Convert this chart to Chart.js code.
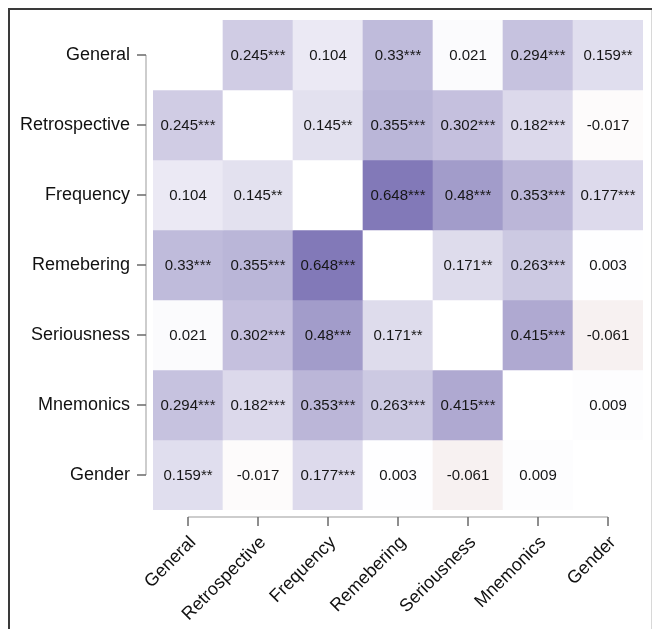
<!DOCTYPE html>
<html>
<head>
<meta charset="utf-8">
<script src="https://cdn.jsdelivr.net/npm/chart.js@4"></script>
<style>
  html, body { margin: 0; padding: 0; background: #fff; }
  #wrap { width: 655px; height: 629px; }
</style>
</head>
<body>
<div id="wrap"><canvas id="mycanvas" width="655" height="629"></canvas></div>
<script>
// variables (rows top to bottom, columns left to right)
var vars = ['General', 'Retrospective', 'Frequency', 'Remebering', 'Seriousness', 'Mnemonics', 'Gender'];

// correlation matrix, null on the diagonal
var corr = [
  [null, 0.245, 0.104, 0.33, 0.021, 0.294, 0.159],
  [0.245, null, 0.145, 0.355, 0.302, 0.182, -0.017],
  [0.104, 0.145, null, 0.648, 0.48, 0.353, 0.177],
  [0.33, 0.355, 0.648, null, 0.171, 0.263, 0.003],
  [0.021, 0.302, 0.48, 0.171, null, 0.415, -0.061],
  [0.294, 0.182, 0.353, 0.263, 0.415, null, 0.009],
  [0.159, -0.017, 0.177, 0.003, -0.061, 0.009, null]
];

// significance stars
var stars = [
  ['', '***', '', '***', '', '***', '**'],
  ['***', '', '**', '***', '***', '***', ''],
  ['', '**', '', '***', '***', '***', '***'],
  ['***', '***', '***', '', '**', '***', ''],
  ['', '***', '***', '**', '', '***', ''],
  ['***', '***', '***', '***', '***', '', ''],
  ['**', '', '***', '', '', '', '']
];

var fontFam = '"Liberation Sans", Arial, sans-serif';

function cellColor(v) {
  if (v === null) return '#ffffff';
  var r, g, b;
  if (v >= 0) {
    r = 255 - 193 * v;
    g = 255 - 207 * v;
    b = 255 - 110 * v;
  } else {
    var a = -v;
    r = 255 - 131 * a;
    g = 255 - 230 * a;
    b = 255 - 230 * a;
  }
  return 'rgb(' + Math.round(r) + ',' + Math.round(g) + ',' + Math.round(b) + ')';
}

// one stacked dataset per row, each cell has height 1
var datasets = [];
for (var i = 0; i < vars.length; i++) {
  var colors = [];
  var ones = [];
  for (var j = 0; j < vars.length; j++) {
    colors.push(cellColor(corr[i][j]));
    ones.push(1);
  }
  datasets.push({
    label: vars[i],
    data: ones,
    backgroundColor: colors,
    borderWidth: 0,
    barPercentage: 1,
    categoryPercentage: 1,
    rowIndex: i
  });
}

var frame = {
  id: 'frame',
  beforeDraw: function(chart) {
    var c = chart.ctx;
    c.save();
    c.fillStyle = '#ffffff';
    c.fillRect(0, 0, chart.width, chart.height);
    c.strokeStyle = '#d8d8d8';
    c.lineWidth = 1;
    c.beginPath();
    c.moveTo(651.5, 9);
    c.lineTo(651.5, chart.height);
    c.stroke();
    c.strokeStyle = '#3a3a3a';
    c.lineWidth = 2;
    c.beginPath();
    c.moveTo(9, chart.height);
    c.lineTo(9, 9);
    c.lineTo(652, 9);
    c.stroke();
    c.restore();
  }
};

var cellText = {
  id: 'cellText',
  afterDatasetsDraw: function(chart) {
    var c = chart.ctx;
    c.save();
    c.fillStyle = '#161616';
    c.font = '15px ' + fontFam;
    c.textAlign = 'center';
    c.textBaseline = 'middle';
    chart.data.datasets.forEach(function(ds, di) {
      var meta = chart.getDatasetMeta(di);
      meta.data.forEach(function(bar, j) {
        var v = corr[ds.rowIndex][j];
        if (v === null) return;
        var cy = (bar.y + bar.base) / 2;
        c.fillText(String(v) + stars[ds.rowIndex][j], bar.x, cy + 1);
      });
    });
    c.restore();
  }
};

// axes drawn detached from the grid, spanning first to last tick
var axes = {
  id: 'axes',
  afterDraw: function(chart) {
    var c = chart.ctx;
    var xs = chart.scales.x, ys = chart.scales.y;
    var area = chart.chartArea;
    var n = vars.length;
    var ax = area.left - 7;
    var ay = area.bottom + 7;
    var y0 = ys.getPixelForValue(0.5), y1 = ys.getPixelForValue(n - 0.5);
    var x0 = xs.getPixelForValue(0), x1 = xs.getPixelForValue(n - 1);
    c.save();
    c.strokeStyle = '#bdbdbd';
    c.lineWidth = 1.5;
    c.beginPath();
    c.moveTo(ax, y0);
    c.lineTo(ax, y1);
    c.moveTo(x0, ay);
    c.lineTo(x1, ay);
    c.stroke();
    c.strokeStyle = '#6a6a6a';
    c.beginPath();
    for (var k = 0; k < n; k++) {
      var py = ys.getPixelForValue(k + 0.5);
      c.moveTo(ax - 9, py);
      c.lineTo(ax, py);
      var px = xs.getPixelForValue(k);
      c.moveTo(px, ay);
      c.lineTo(px, ay + 9);
    }
    c.stroke();
    c.restore();
  }
};

var ctx = document.getElementById('mycanvas');
var heat = new Chart(ctx, {
  type: 'bar',
  data: { labels: vars, datasets: datasets },
  plugins: [frame, cellText, axes],
  options: {
    responsive: false,
    animation: false,
    layout: { padding: { top: 20, right: 12, left: 0, bottom: 0 } },
    plugins: {
      legend: { display: false },
      tooltip: { enabled: false }
    },
    scales: {
      x: {
        stacked: true,
        grid: { display: false, drawTicks: false },
        border: { display: false },
        ticks: {
          autoSkip: false,
          maxRotation: 45,
          minRotation: 45,
          padding: 22,
          labelOffset: 5,
          color: '#111111',
          font: { family: fontFam, size: 18 }
        },
        afterFit: function(s) {
          s.height = 119;
          s.paddingLeft = 0;
          s.paddingRight = 0;
        }
      },
      y: {
        type: 'linear',
        stacked: true,
        reverse: true,
        min: 0,
        max: vars.length,
        grid: { display: false, drawTicks: false },
        border: { display: false },
        afterBuildTicks: function(s) {
          s.ticks = vars.map(function(v, i) { return { value: i + 0.5 }; });
        },
        ticks: {
          padding: 23,
          color: '#111111',
          font: { family: fontFam, size: 18 },
          callback: function(value) { return vars[Math.round(value - 0.5)]; }
        },
        afterFit: function(s) {
          s.width = 153;
          s.paddingTop = 0;
          s.paddingBottom = 0;
        }
      }
    }
  }
});
</script>
</body>
</html>
